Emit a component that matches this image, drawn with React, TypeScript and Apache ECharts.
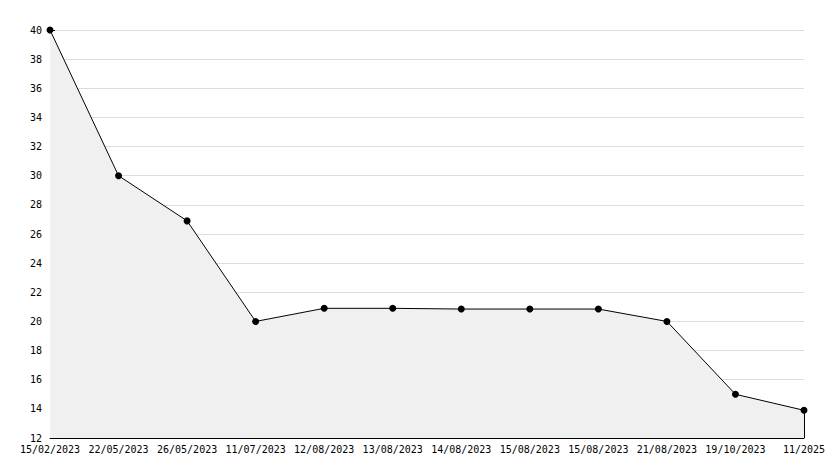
import React, { useEffect, useRef } from "react";
import * as echarts from "echarts";

const categories = [
  "15/02/2023", "22/05/2023", "26/05/2023", "11/07/2023", "12/08/2023", "13/08/2023",
  "14/08/2023", "15/08/2023", "15/08/2023", "21/08/2023", "19/10/2023", "11/2025",
];
const values = [40, 30, 26.9, 20, 20.9, 20.9, 20.85, 20.85, 20.85, 20, 15, 13.9];
const yMin = 12;
const yMax = 40;
const yStep = 2;

export default function App() {
  const ref = useRef<HTMLDivElement>(null);
  useEffect(() => {
    if (!ref.current) return;
    const chart = echarts.init(ref.current, undefined, { renderer: "svg" });
    const font = { fontFamily: "DejaVu Sans Mono", fontSize: 10, color: "#000" };
    const lastIdx = categories.length - 1;
    chart.setOption({
      animation: false,
      backgroundColor: "#fff",
      grid: { left: 50, right: 30, top: 30, bottom: 30, containLabel: false },
      xAxis: {
        type: "category",
        data: categories,
        boundaryGap: false,
        axisLine: { lineStyle: { color: "#000", width: 1 } },
        axisTick: { inside: true, length: 5, lineStyle: { color: "#000" } },
        axisLabel: { ...font, margin: 6, interval: 0 },
        splitLine: { show: false },
      },
      yAxis: {
        type: "value",
        min: yMin,
        max: yMax,
        interval: yStep,
        axisLine: { show: true, lineStyle: { color: "#000", width: 1 } },
        axisTick: { show: true, inside: true, length: 5, lineStyle: { color: "#000" } },
        minorTick: { show: true, splitNumber: 2, length: 3, lineStyle: { color: "#000" } },
        axisLabel: { ...font, margin: 8 },
        splitLine: { show: true, lineStyle: { color: "#dddddd", width: 1 } },
      },
      series: [
        {
          type: "line",
          data: values,
          symbol: "circle",
          symbolSize: 7,
          showAllSymbol: true,
          itemStyle: { color: "#000" },
          lineStyle: { color: "#000", width: 1 },
          areaStyle: { color: "#f0f0f0", opacity: 1 },
          markLine: {
            silent: true,
            symbol: "none",
            label: { show: false },
            lineStyle: { color: "#000", width: 1, type: "solid" },
            data: [[{ coord: [lastIdx, values[lastIdx]] }, { coord: [lastIdx, yMin] }]],
          },
        },
      ],
    });
    return () => chart.dispose();
  }, []);
  return (
    <div
      ref={ref}
      style={{ position: "fixed", left: 0, top: 0, width: 834, height: 468 }}
    />
  );
}
